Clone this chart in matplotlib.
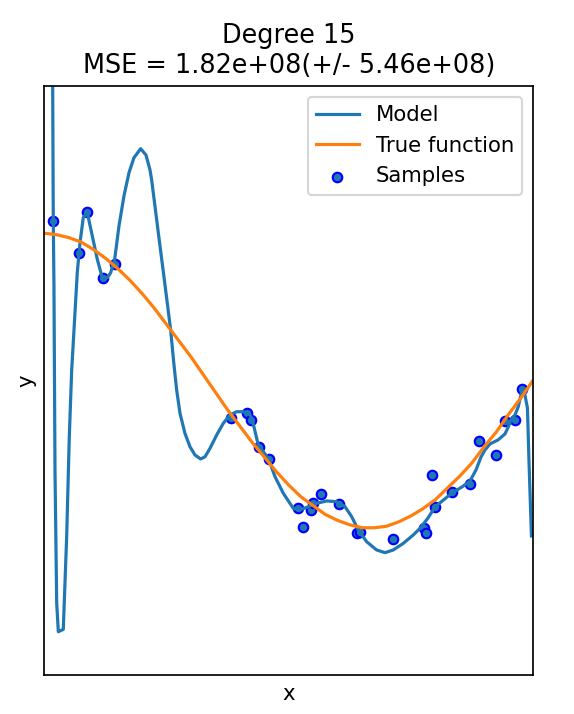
import numpy as np
import matplotlib
matplotlib.use("Agg")
from matplotlib import pyplot as plt

# samples
sample_x = [0.018, 0.071, 0.088, 0.120, 0.144, 0.381, 0.414, 0.423, 0.440, 0.460,
            0.520, 0.530, 0.545, 0.549, 0.567, 0.602, 0.639, 0.646, 0.714, 0.777,
            0.781, 0.793, 0.799, 0.834, 0.871, 0.890, 0.924, 0.943, 0.963, 0.977]
sample_y = [1.085, 0.868, 1.146, 0.698, 0.789, -0.257, -0.219, -0.268, -0.454, -0.535,
            -0.868, -0.993, -0.879, -0.834, -0.773, -0.839, -1.033, -1.031, -1.076, -0.999,
            -1.033, -0.642, -0.857, -0.755, -0.705, -0.411, -0.506, -0.275, -0.268, -0.058]

# true function, read every 0.025
true_x = [i * 0.025 for i in range(41)]
true_y = [1.00, 0.99, 0.97, 0.94, 0.89, 0.83, 0.76, 0.68, 0.59, 0.49,
          0.38, 0.27, 0.16, 0.04, -0.08, -0.20, -0.31, -0.42, -0.52, -0.62,
          -0.71, -0.79, -0.85, -0.91, -0.95, -0.98, -1.00, -1.00, -0.99, -0.96,
          -0.92, -0.87, -0.81, -0.73, -0.65, -0.56, -0.45, -0.35, -0.23, -0.12, 0.00]

# model curve (degree 15 fit)
model_x = [0.0143, 0.0168, 0.0180, 0.0194, 0.0215, 0.0250, 0.0283, 0.0385, 0.0454, 0.0508,
           0.0557, 0.0624, 0.0671, 0.0727, 0.0794, 0.0876, 0.0979, 0.1081, 0.1183, 0.1286,
           0.1355, 0.1437, 0.1525, 0.1627, 0.1730, 0.1832, 0.1969, 0.2078, 0.2160, 0.2194,
           0.2323, 0.2454, 0.2583, 0.2647, 0.2706, 0.2774, 0.2876, 0.2979, 0.3081, 0.3198,
           0.3286, 0.3388, 0.3525, 0.3660, 0.3797, 0.3935, 0.4070, 0.4207, 0.4250, 0.4377,
           0.4581, 0.4719, 0.4889, 0.5093, 0.5230, 0.5400, 0.5572, 0.5777, 0.5982, 0.6152,
           0.6289, 0.6424, 0.6596, 0.6800, 0.6970, 0.7140, 0.7345, 0.7550, 0.7687, 0.7851,
           0.7994, 0.8342, 0.8547, 0.8710, 0.8833, 0.8936, 0.9017, 0.9120, 0.9283, 0.9427,
           0.9494, 0.9550, 0.9632, 0.9699, 0.9769, 0.9836, 0.9887, 0.9918, 0.9969]
model_y = [4.000, 2.000, 1.083, 0.642, -0.608, -1.511, -1.706, -1.690, -1.061, -0.382,
           0.071, 0.458, 0.732, 0.936, 1.106, 1.140, 0.981, 0.823, 0.698, 0.698,
           0.732, 0.823, 1.049, 1.253, 1.411, 1.513, 1.574, 1.531, 1.430, 1.362,
           1.022, 0.683, 0.343, 0.119, -0.065, -0.223, -0.359, -0.450, -0.506, -0.533,
           -0.518, -0.461, -0.370, -0.291, -0.234, -0.212, -0.212, -0.234, -0.262, -0.438,
           -0.528, -0.653, -0.766, -0.868, -0.879, -0.857, -0.834, -0.818, -0.823, -0.857,
           -0.925, -1.015, -1.095, -1.151, -1.169, -1.151, -1.106, -1.049, -1.004, -0.934,
           -0.859, -0.764, -0.723, -0.683, -0.608, -0.520, -0.472, -0.431, -0.404, -0.363,
           -0.316, -0.268, -0.234, -0.178, -0.076, -0.099, -0.187, -0.540, -1.056]

dpi = 153
fig = plt.figure(figsize=(574 / dpi, 714 / dpi), dpi=dpi)
ax = fig.add_axes([0.0775, 0.0546, 0.851, 0.825])

ax.plot(model_x, model_y, label="Model")
ax.plot(true_x, true_y, label="True function")
ax.scatter(sample_x, sample_y, edgecolor="b", s=20, label="Samples")
ax.set_xlabel("x")
ax.set_ylabel("y")
ax.set_xlim((0, 1))
ax.set_ylim((-2, 2))
ax.set_xticks(())
ax.set_yticks(())
ax.legend(loc="upper right")
ax.set_title("Degree 15\nMSE = 1.82e+08(+/- 5.46e+08)")

fig.savefig("out.png", dpi=dpi)
